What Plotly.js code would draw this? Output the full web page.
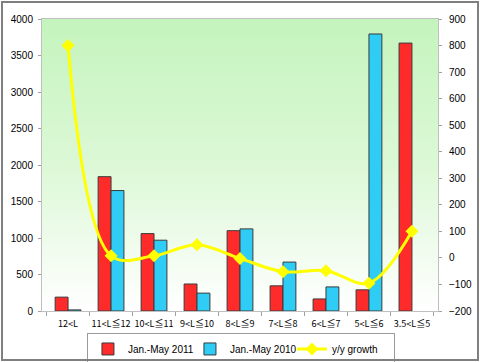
<!DOCTYPE html>
<html>
<head>
<meta charset="utf-8">
<script src="https://cdn.plot.ly/plotly-3.0.1.min.js"></script>
<style>
html,body{margin:0;padding:0;background:#fff;}
#wrap{position:relative;width:480px;height:362px;}
#chart{width:480px;height:362px;}
#frame{position:absolute;left:1px;top:1px;width:474px;height:356px;border:2px solid #7f7f7f;pointer-events:none;}
</style>
</head>
<body>
<div id="wrap"><div id="chart"></div><div id="frame"></div></div>
<script>
const categories = ["12<L", "11<L≦12", "10<L≦11", "9<L≦10", "8<L≦9", "7<L≦8", "6<L≦7", "5<L≦6", "3.5<L≦5"];
const sales2011 = [190, 1840, 1060, 370, 1100, 345, 165, 290, 3670];
const sales2010 = [15, 1650, 970, 245, 1125, 670, 330, 3795, null];
const growth = [800, 8, 8, 50, -2, -52, -48, -95, 100];

const bgSvg = 'data:image/svg+xml;utf8,' + encodeURIComponent(
  '<svg xmlns="http://www.w3.org/2000/svg" width="10" height="100" preserveAspectRatio="none">' +
  '<defs><linearGradient id="g" x1="0" y1="0" x2="0" y2="1">' +
  '<stop offset="0" stop-color="#c4f4bd"/><stop offset="0.5" stop-color="#dcf8d6"/><stop offset="1" stop-color="#ffffff"/>' +
  '</linearGradient></defs><rect width="10" height="100" fill="url(#g)"/></svg>');

const traces = [
  {type:'bar', name:'Jan.-May 2011', x:categories, y:sales2011,
   marker:{color:'#ff2b2b', line:{color:'#3a3a3a', width:1}}},
  {type:'bar', name:'Jan.-May 2010', x:categories, y:sales2010,
   marker:{color:'#2fcdf5', line:{color:'#3a3a3a', width:1}}},
  {type:'scatter', mode:'lines+markers', name:'y/y growth', x:categories, y:growth, yaxis:'y2',
   line:{color:'#ffff00', width:3, shape:'spline', smoothing:1},
   marker:{symbol:'diamond', size:10, color:'#ffff00'}}
];

const layout = {
  width:480, height:362,
  margin:{l:42, r:42, t:19, b:51},
  paper_bgcolor:'rgba(0,0,0,0)',
  plot_bgcolor:'rgba(0,0,0,0)',
  barmode:'group', bargap:0.4, bargroupgap:0,
  showlegend:true,
  legend:{orientation:'h', xref:'container', yref:'container', x:0.502, xanchor:'center', y:0.036, yanchor:'middle',
    bordercolor:'#9a9a9a', borderwidth:1, bgcolor:'#ffffff',
    font:{family:'Liberation Sans Narrow, Liberation Sans, Arial', size:10, color:'#000'},
    itemwidth:30, tracegroupgap:0, entrywidth:57, entrywidthmode:'pixels'},
  font:{family:'Liberation Sans, Arial', size:10, color:'#000'},
  xaxis:{type:'category', showgrid:false, showline:true, linecolor:'#c0c0c0', linewidth:1,
    mirror:true, ticks:'outside', tickson:'boundaries', ticklen:4, tickcolor:'#a0a0a0',
    tickangle:0, automargin:false, ticklabelstandoff:4,
    tickfont:{family:'Noto Sans CJK SC', size:9, color:'#000'}, fixedrange:true},
  yaxis:{range:[0,4000], dtick:500, showgrid:false, showline:true, linecolor:'#c0c0c0', linewidth:1,
    ticks:'outside', ticklen:3, tickcolor:'#a0a0a0', zeroline:false, automargin:false, ticklabelstandoff:3,
    tickfont:{family:'Liberation Sans, Arial', size:10, color:'#000'}},
  yaxis2:{overlaying:'y', side:'right', range:[-200,900], dtick:100, showgrid:false,
    showline:true, linecolor:'#c0c0c0', linewidth:1, ticks:'outside', ticklen:3, tickcolor:'#a0a0a0',
    zeroline:false, automargin:false, ticklabelstandoff:5, tickfont:{family:'Liberation Sans, Arial', size:10, color:'#000'}},
  images:[{source:bgSvg, xref:'paper', yref:'paper', x:0, y:1, sizex:1, sizey:1,
    sizing:'stretch', layer:'below', xanchor:'left', yanchor:'top'}]
};

Plotly.newPlot('chart', traces, layout, {displayModeBar:false, staticPlot:true});
</script>
</body>
</html>
